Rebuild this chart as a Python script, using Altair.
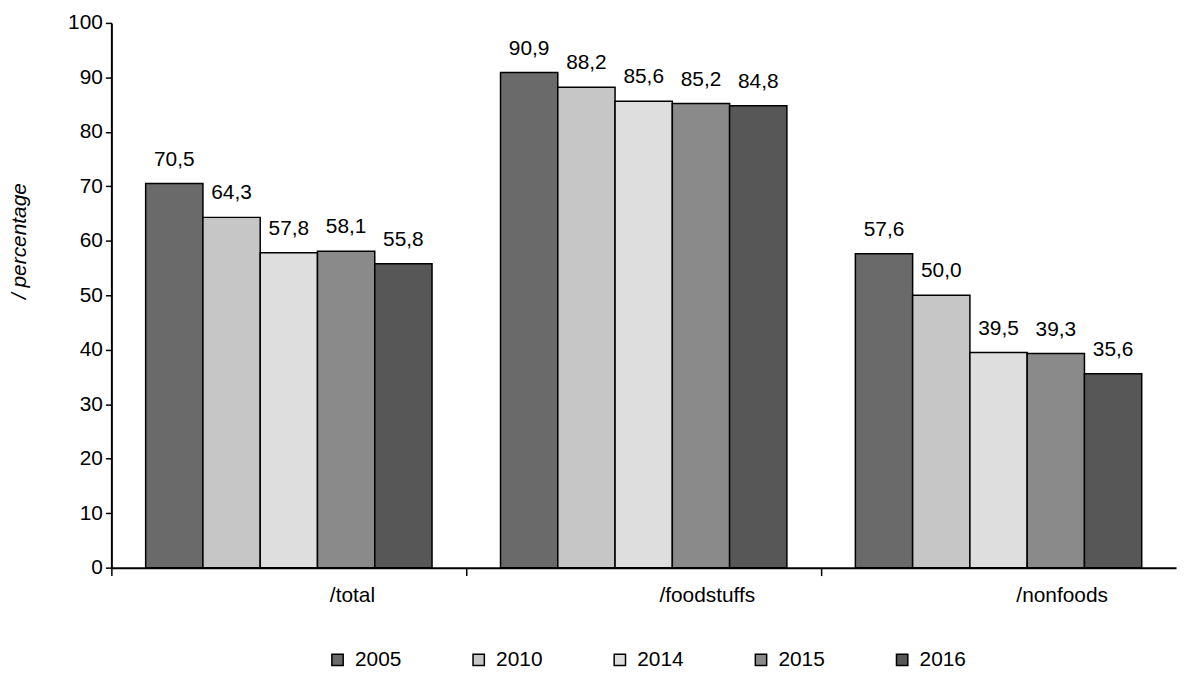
import altair as alt
import pandas as pd

categories = ["/total", "/foodstuffs", "/nonfoods"]
years = ["2005", "2010", "2014", "2015", "2016"]
v_total = [70.5, 64.3, 57.8, 58.1, 55.8]
v_food = [90.9, 88.2, 85.6, 85.2, 84.8]
v_nonfood = [57.6, 50.0, 39.5, 39.3, 35.6]
fills = ["#6a6a6a", "#c6c6c6", "#dedede", "#8a8a8a", "#575757"]

rows = []
for cat, vals in zip(categories, [v_total, v_food, v_nonfood]):
    for y, v in zip(years, vals):
        rows.append({"cat": cat, "year": y, "value": v,
                     "label": f"{v:.1f}".replace(".", ",")})
df = pd.DataFrame(rows)

FONT = "Liberation Sans"
FS = 21

x_enc = alt.X("cat:N", sort=categories, title=None,
              scale=alt.Scale(paddingInner=0.193, paddingOuter=0.0966),
              axis=alt.Axis(tickSize=8, tickColor="black", tickOffset=-178.5,
                            tickWidth=1.5, domainColor="black", domainWidth=2,
                            labelAngle=0, labelFontSize=FS, labelFont=FONT,
                            labelColor="black", labelOffset=242, labelPadding=9,
                            labelBaseline="top"))
xo_enc = alt.XOffset("year:N", sort=years, scale=alt.Scale(paddingInner=0, paddingOuter=0))
y_enc = alt.Y("value:Q", scale=alt.Scale(domain=[0, 100], nice=False),
              title="/ percentage",
              axis=alt.Axis(values=list(range(0, 101, 10)), grid=False,
                            tickSize=6, tickColor="black", tickWidth=1.5,
                            domainColor="black", domainWidth=2,
                            labelFontSize=FS, labelFont=FONT, labelColor="black",
                            labelPadding=3, titleFont=FONT, titleFontSize=FS,
                            titleFontStyle="italic", titleFontWeight="normal",
                            titleColor="black", titleAngle=270, titleX=-92,
                            titleY=219, titleAlign="center", titleBaseline="middle"))

bars = alt.Chart(df).mark_bar(stroke="black", strokeWidth=1.5).encode(
    x=x_enc, xOffset=xo_enc, y=y_enc,
    fill=alt.Fill("year:N", sort=years, scale=alt.Scale(domain=years, range=fills),
                  legend=alt.Legend(title=None, orient="none", direction="horizontal",
                                    columns=5, legendX=217, legendY=630,
                                    symbolType="square", symbolSize=130,
                                    symbolStrokeColor="black", symbolStrokeWidth=1.5,
                                    labelFontSize=FS, labelFont=FONT, labelColor="black",
                                    labelOffset=7, columnPadding=67)),
)

labels = alt.Chart(df).mark_text(baseline="alphabetic", dy=-18, fontSize=FS,
                                 font=FONT, color="black").encode(
    x=alt.X("cat:N", sort=categories), xOffset=alt.XOffset("year:N", sort=years),
    y=alt.Y("value:Q"), text="label:N")

chart = (bars + labels).properties(
    width=1071, height=548,
    autosize=alt.AutoSizeParams(type="none"),
    padding={"left": 104, "top": 13, "right": 2, "bottom": 104},
).configure_view(stroke=None)

chart.save("out.html", embed_options={"renderer": "svg", "actions": False})
